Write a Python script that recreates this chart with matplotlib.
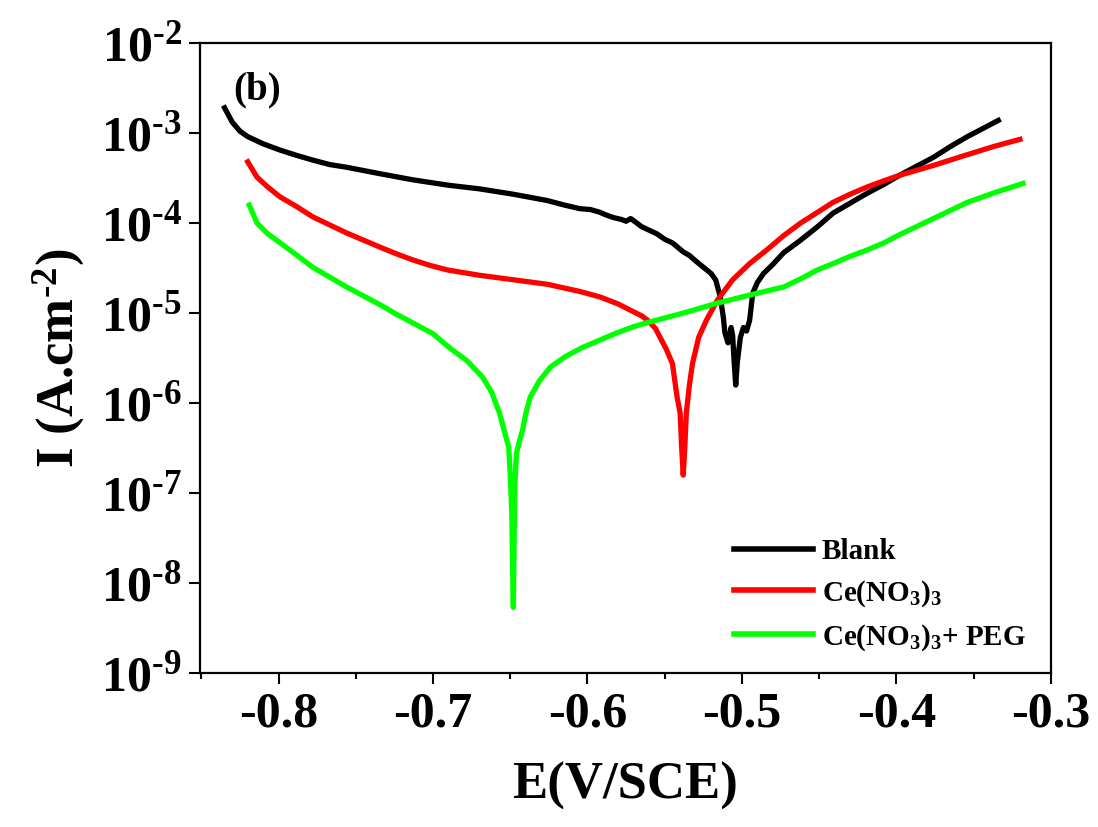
import numpy as np
import matplotlib
matplotlib.use('Agg')
import matplotlib.pyplot as plt
from matplotlib.ticker import MultipleLocator, FixedLocator, FixedFormatter

plt.rcParams['font.family'] = ['Liberation Serif', 'DejaVu Serif']
plt.rcParams['font.weight'] = 'bold'
plt.rcParams['mathtext.fontset'] = 'custom'
plt.rcParams['mathtext.rm'] = 'Liberation Serif:bold'
plt.rcParams['mathtext.it'] = 'Liberation Serif:bold:italic'
plt.rcParams['mathtext.bf'] = 'Liberation Serif:bold'
plt.rcParams['mathtext.default'] = 'rm'

# Tafel curves: E (V/SCE) and log10 of I (A/cm2)
blank_E = [-0.835, -0.830, -0.825, -0.820, -0.810, -0.799, -0.788, -0.778, -0.767, -0.756,
           -0.735, -0.713, -0.690, -0.670, -0.648, -0.626, -0.615, -0.605, -0.598, -0.592,
           -0.588, -0.583, -0.578, -0.575, -0.572, -0.568, -0.565, -0.560, -0.555, -0.550,
           -0.545, -0.538, -0.534, -0.530, -0.525, -0.520, -0.517, -0.514,
           -0.512, -0.511, -0.509, -0.507, -0.506, -0.505, -0.504, -0.503, -0.501, -0.499,
           -0.497, -0.495, -0.493, -0.490, -0.486, -0.480, -0.473, -0.462, -0.451, -0.441,
           -0.430, -0.419, -0.408, -0.398, -0.387, -0.376, -0.365, -0.354, -0.344, -0.334]
blank_logI = [-2.72, -2.88, -2.98, -3.04, -3.12, -3.19, -3.25, -3.30, -3.35, -3.38,
              -3.45, -3.52, -3.58, -3.62, -3.68, -3.75, -3.80, -3.84, -3.85, -3.88,
              -3.91, -3.94, -3.96, -3.98, -3.95, -4.00, -4.04, -4.08, -4.12, -4.18,
              -4.22, -4.32, -4.36, -4.42, -4.49, -4.56, -4.63, -4.82,
              -5.05, -5.22, -5.33, -5.16, -5.25, -5.55, -5.80, -5.55, -5.27, -5.16,
              -5.20, -5.08, -4.78, -4.66, -4.56, -4.46, -4.33, -4.19, -4.04, -3.89,
              -3.78, -3.67, -3.57, -3.47, -3.37, -3.27, -3.15, -3.04, -2.95, -2.86]

ce_E = [-0.820, -0.814, -0.807, -0.799, -0.788, -0.778, -0.767, -0.756, -0.745, -0.734,
        -0.724, -0.713, -0.702, -0.691, -0.670, -0.648, -0.626, -0.605, -0.592, -0.580,
        -0.572, -0.565, -0.561, -0.556, -0.553, -0.549, -0.545, -0.542, -0.540, -0.539,
        -0.538, -0.537, -0.536, -0.534, -0.532, -0.528, -0.523, -0.516, -0.506, -0.495,
        -0.484, -0.473, -0.462, -0.451, -0.441, -0.430, -0.419, -0.408, -0.398, -0.376,
        -0.354, -0.337, -0.320]
ce_logI = [-3.32, -3.49, -3.60, -3.71, -3.82, -3.93, -4.02, -4.11, -4.19, -4.27,
           -4.34, -4.41, -4.47, -4.52, -4.58, -4.63, -4.68, -4.76, -4.82, -4.90,
           -4.97, -5.03, -5.08, -5.17, -5.27, -5.40, -5.56, -5.93, -6.11, -6.50,
           -6.80, -6.50, -6.11, -5.80, -5.56, -5.27, -5.08, -4.86, -4.63, -4.45,
           -4.30, -4.14, -4.00, -3.88, -3.77, -3.68, -3.60, -3.53, -3.47, -3.36,
           -3.24, -3.15, -3.07]

peg_E = [-0.819, -0.814, -0.807, -0.799, -0.788, -0.778, -0.767, -0.756, -0.745, -0.734,
         -0.724, -0.713, -0.700, -0.689, -0.678, -0.668, -0.662, -0.657, -0.654, -0.651,
         -0.650, -0.649, -0.6485, -0.648, -0.6475, -0.647, -0.646, -0.644, -0.642, -0.640,
         -0.637, -0.631, -0.624, -0.614, -0.603, -0.592, -0.581, -0.570, -0.560, -0.538,
         -0.516, -0.495, -0.473, -0.462, -0.451, -0.441, -0.430, -0.419, -0.408, -0.398,
         -0.387, -0.376, -0.365, -0.354, -0.336, -0.318]
peg_logI = [-3.80, -4.00, -4.12, -4.22, -4.36, -4.49, -4.60, -4.71, -4.81, -4.91,
            -5.01, -5.11, -5.23, -5.39, -5.53, -5.71, -5.88, -6.11, -6.30, -6.49,
            -6.80, -7.22, -7.80, -8.27, -7.50, -6.90, -6.56, -6.42, -6.30, -6.12,
            -5.93, -5.75, -5.60, -5.48, -5.38, -5.30, -5.22, -5.15, -5.10, -5.00,
            -4.89, -4.80, -4.71, -4.62, -4.52, -4.45, -4.37, -4.30, -4.22, -4.13,
            -4.04, -3.95, -3.86, -3.77, -3.66, -3.56]

labels = ['Blank', 'Ce(NO$_3$)$_3$', 'Ce(NO$_3$)$_3$+ PEG']
colors = ['black', '#ff0000', '#00ff00']

x_ticks = [-0.8, -0.7, -0.6, -0.5, -0.4, -0.3]
y_exps = [-9, -8, -7, -6, -5, -4, -3, -2]

fig = plt.figure(figsize=(10.98, 8.27), dpi=100)
ax = fig.add_axes([0.182, 0.186, 0.775, 0.762])

series = [(blank_E, blank_logI), (ce_E, ce_logI), (peg_E, peg_logI)]
for (E, logI), lab, col in zip(series, labels, colors):
    ax.plot(E, 10 ** np.array(logI), color=col, lw=3.8, label=lab)

ax.set_yscale('log')
ax.set_xlim(-0.851, -0.3)
ax.set_ylim(1e-9, 1e-2)

ax.xaxis.set_major_locator(FixedLocator(x_ticks))
ax.xaxis.set_major_formatter(FixedFormatter([f'{v:.1f}' for v in x_ticks]))
ax.xaxis.set_minor_locator(MultipleLocator(0.05))
ax.yaxis.set_major_locator(FixedLocator([10.0 ** e for e in y_exps]))
ax.yaxis.set_major_formatter(FixedFormatter(['10$^{\\text{%d}}$' % e for e in y_exps]))
ax.yaxis.set_minor_locator(FixedLocator([]))

ax.tick_params(axis='both', which='major', direction='out', length=8, width=1.5,
               labelsize=36, pad=5)
ax.tick_params(axis='x', which='minor', direction='out', length=4, width=1.5)
for sp in ax.spines.values():
    sp.set_linewidth(1.6)

ax.set_xlabel('E(V/SCE)', fontsize=38, fontweight='bold', labelpad=18)
ax.set_ylabel('I (A.cm$^{\\text{-2}}$)', fontsize=38, fontweight='bold', labelpad=10)

ax.text(0.039, 0.925, '(b)', transform=ax.transAxes, fontsize=28, fontweight='bold',
        va='center', ha='left')

leg = ax.legend(loc='lower right', bbox_to_anchor=(0.995, 0.0), frameon=False,
                fontsize=21, handlelength=2.7, handletextpad=0.3, labelspacing=0.45,
                borderaxespad=0.3)
for line in leg.get_lines():
    line.set_linewidth(4)

fig.savefig('out.png', dpi=100)
